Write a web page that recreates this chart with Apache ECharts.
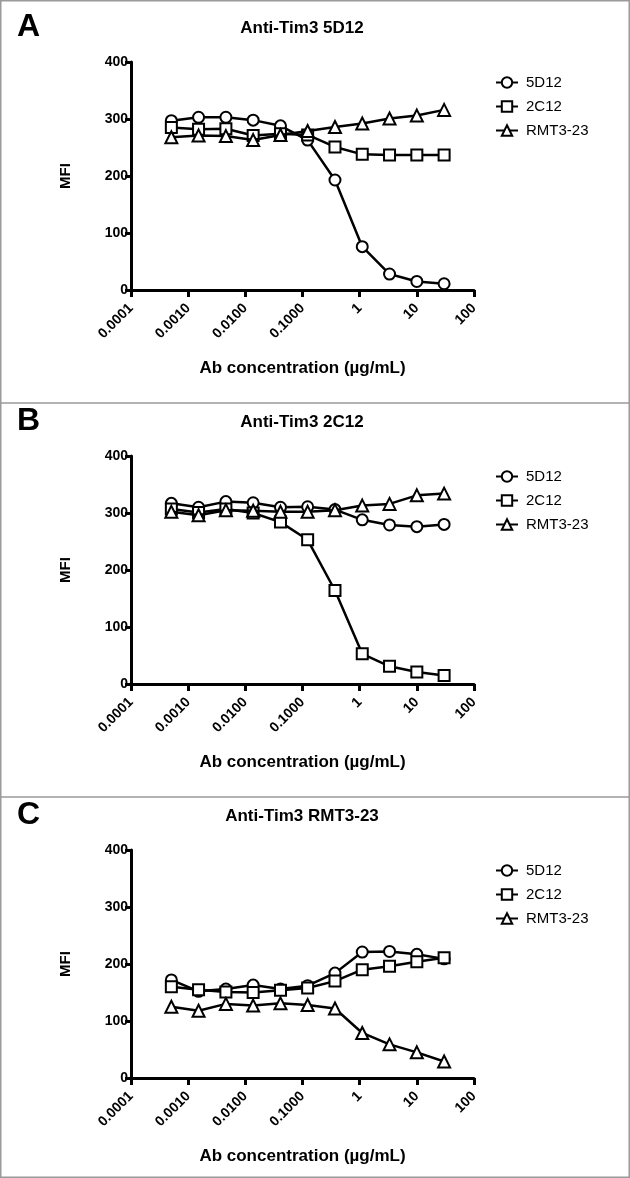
<!DOCTYPE html>
<html>
<head>
<meta charset="utf-8">
<script src="https://cdn.jsdelivr.net/npm/echarts@6/dist/echarts.min.js"></script>
<style>html,body{margin:0;padding:0;background:#fff}#c{width:630px;height:1178px}</style>
</head>
<body>
<div id="c"></div>
<script>
// Antibody concentrations (µg/mL), 3-fold dilutions
const conc = [0.000508, 0.00152, 0.00457, 0.0137, 0.0412, 0.123, 0.370, 1.11, 3.33, 10, 30];
const xTicks = [0.0001, 0.001, 0.01, 0.1, 1, 10, 100];
const xTickLabels = ['0.0001', '0.0010', '0.0100', '0.1000', '1', '10', '100'];
const seriesNames = ['5D12', '2C12', 'RMT3-23'];
const panelLetters = ['A', 'B', 'C'];
const panelTitles = ['Anti-Tim3 5D12', 'Anti-Tim3 2C12', 'Anti-Tim3 RMT3-23'];

// Panel A
const a5D12 = [297, 303, 303, 298, 288, 263, 193, 76, 28, 15, 11];
const a2C12 = [285, 282, 283, 271, 274, 272, 251, 238, 237, 237, 237];
const aRMT = [268, 271, 270, 263, 272, 279, 286, 292, 301, 306, 316];
// Panel B
const b5D12 = [317, 310, 320, 318, 310, 311, 306, 288, 279, 276, 280];
const b2C12 = [307, 301, 307, 300, 284, 253, 164, 53, 31, 21, 15];
const bRMT = [302, 296, 305, 304, 302, 302, 305, 313, 316, 331, 334];
// Panel C
const c5D12 = [172, 152, 156, 163, 156, 162, 184, 221, 222, 217, 209];
const c2C12 = [160, 155, 151, 150, 154, 158, 170, 190, 196, 204, 211];
const cRMT = [125, 118, 130, 127, 131, 128, 122, 79, 59, 45, 29];

const panels = [[a5D12, a2C12, aRMT], [b5D12, b2C12, bRMT], [c5D12, c2C12, cRMT]];
const symbols = ['circle', 'rect', 'triangle'];

const FONT = '"Liberation Sans", Arial, Helvetica, sans-serif';
const PANEL_H = 394;
const GRID_TOP = 62, GRID_H = 228, GRID_LEFT = 131, GRID_W = 343;

function fmtX(v) {
  for (let i = 0; i < xTicks.length; i++) {
    if (Math.abs(Math.log10(v) - Math.log10(xTicks[i])) < 1e-6) return xTickLabels[i];
  }
  return '';
}

const grids = [], xAxes = [], yAxes = [], series = [], legends = [], graphics = [];
panels.forEach((vals, p) => {
  const off = p * PANEL_H;
  grids.push({left: GRID_LEFT, top: GRID_TOP + off, width: GRID_W, height: GRID_H});
  xAxes.push({
    type: 'log', logBase: 10, gridIndex: p, min: 0.0001, max: 100, splitNumber: 6,
    axisLine: {lineStyle: {color: '#000', width: 3}},
    axisTick: {show: true, length: 7, lineStyle: {color: '#000', width: 3}},
    minorTick: {show: false},
    splitLine: {show: false},
    axisLabel: {rotate: 45, formatter: fmtX, color: '#000', fontFamily: FONT, fontWeight: 'bold', fontSize: 14, margin: 16},
    name: 'Ab concentration (µg/mL)', nameLocation: 'middle', nameGap: 70,
    nameTextStyle: {color: '#000', fontFamily: FONT, fontWeight: 'bold', fontSize: 17}
  });
  yAxes.push({
    type: 'value', gridIndex: p, min: 0, max: 400, interval: 100,
    axisLine: {show: true, lineStyle: {color: '#000', width: 3}},
    axisTick: {show: true, length: 6, lineStyle: {color: '#000', width: 3}},
    splitLine: {show: false},
    axisLabel: {color: '#000', fontFamily: FONT, fontWeight: 'bold', fontSize: 14, margin: 3},
    name: 'MFI', nameLocation: 'middle', nameGap: 58,
    nameTextStyle: {color: '#000', fontFamily: FONT, fontWeight: 'bold', fontSize: 15}
  });
  vals.forEach((arr, s) => {
    series.push({
      name: seriesNames[s], type: 'line', xAxisIndex: p, yAxisIndex: p,
      data: arr.map((v, i) => [conc[i], v]),
      symbol: symbols[s], symbolSize: s === 2 ? 12 : 11,
      lineStyle: {color: '#000', width: 2.5},
      itemStyle: {color: '#fff', borderColor: '#000', borderWidth: 2},
      z: 2 + s, animation: false
    });
  });
  legends.push({
    left: 490, top: 70 + off, orient: 'vertical', itemGap: 9, itemWidth: 22, itemHeight: 13,
    data: seriesNames, selectedMode: false,
    textStyle: {color: '#000', fontFamily: FONT, fontSize: 15, padding: [0, 0, 0, 3]}
  });
  graphics.push({type: 'text', left: 17, top: 11 + off,
    style: {text: panelLetters[p], font: 'bold 32px ' + FONT, fill: '#000'}});
  graphics.push({type: 'text', x: 302, y: 28 + off,
    style: {text: panelTitles[p], font: 'bold 17px ' + FONT, fill: '#000', textAlign: 'center', textVerticalAlign: 'middle'}});
  if (p > 0) {
    graphics.push({type: 'line', shape: {x1: 0, y1: off + 9, x2: 630, y2: off + 9},
      style: {stroke: '#9a9a9a', lineWidth: 1.5}});
  }
});
graphics.push({type: 'rect', shape: {x: 0.75, y: 0.75, width: 628.5, height: 1176.5},
  style: {fill: 'none', stroke: '#9a9a9a', lineWidth: 1.5}});

const chart = echarts.init(document.getElementById('c'), null, {renderer: 'canvas'});
chart.setOption({
  animation: false,
  backgroundColor: '#fff',
  grid: grids, xAxis: xAxes, yAxis: yAxes, series: series, legend: legends, graphic: graphics
});
</script>
</body>
</html>
